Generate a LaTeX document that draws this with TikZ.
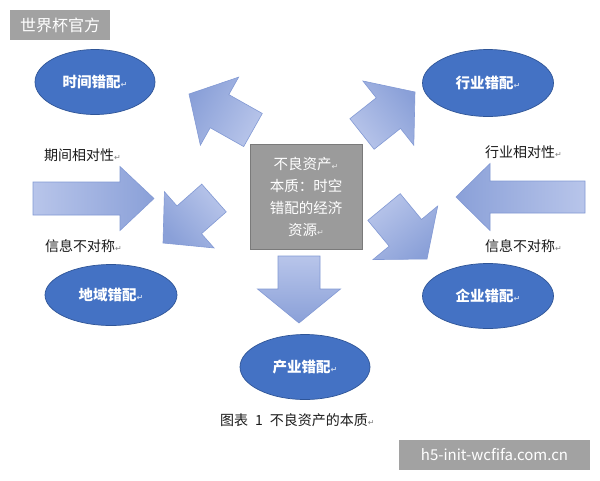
\documentclass[tikz,border=0pt]{standalone}
\usepackage{fontspec}
\setmainfont{Noto Sans CJK SC}
\newfontfamily\cjk{Noto Sans CJK SC}
\newfontfamily\djv{DejaVu Sans}
\usetikzlibrary{shapes.geometric,calc}
\definecolor{ellfill}{HTML}{4472C4}
\definecolor{elldraw}{HTML}{2F5597}
\definecolor{arrlight}{HTML}{B8C5EA}
\definecolor{arrdark}{HTML}{8AA0D8}
\definecolor{arrdraw}{HTML}{8299D4}
\definecolor{boxfill}{HTML}{9B9B9B}
\definecolor{boxdraw}{HTML}{7A7A7A}
\definecolor{wmfill}{HTML}{A2A2A2}
\definecolor{lblack}{HTML}{1A1A1A}
\newcommand\pmk[1]{{\djv\fontsize{8}{8}\selectfont\textcolor{#1}{↵}}}
% name, tail, tip, shaft half width, head half width, head length, shading angle
\newcommand\blockarr[7]{%
  \coordinate (#1t) at #2;
  \coordinate (#1h) at #3;
  \coordinate (#1b) at ($(#1h)!#6!(#1t)$);
  \draw[arrowsty, shading angle=#7]
    ($(#1t)!#4!90:(#1h)$) -- ($(#1b)!#4!90:(#1h)$) -- ($(#1b)!#5!90:(#1h)$)
    -- (#1h) -- ($(#1b)!#5!-90:(#1h)$) -- ($(#1b)!#4!-90:(#1h)$)
    -- ($(#1t)!#4!-90:(#1h)$) -- cycle;}
\tikzset{
  ell/.style={ellipse, fill=ellfill, draw=elldraw, line width=0.7pt, inner sep=0pt,
    text=white, font=\fontsize{14.5}{14.5}\selectfont\bfseries},
  arrowsty/.style={draw=arrdraw, line width=0.6pt, top color=arrlight, bottom color=arrdark},
  lbl/.style={anchor=west, inner sep=0pt, text=lblack, font=\fontsize{14}{14}\selectfont},
  wm/.style={fill=wmfill, text=white, inner sep=0pt},
}
\begin{document}
\begin{tikzpicture}[x=1pt,y=-1pt]
\useasboundingbox[fill=white] (0,0) rectangle (600,480);
% watermarks
\node[wm, minimum width=100pt, minimum height=30pt, font=\fontsize{16}{16}\selectfont] (wm1) at (60,25) {世界杯官方};
\node[wm, minimum width=191pt, minimum height=30pt, font=\fontsize{15}{15}\selectfont] (wm2) at (494.5,455) {h5-init-wcfifa.com.cn};
% ellipses
\node[ell, minimum width=120pt, minimum height=65pt] (time) at (95,82) {时间错配\pmk{white!70!ellfill}};
\node[ell, minimum width=131pt, minimum height=67pt] (hang) at (488,83) {行业错配\pmk{white!70!ellfill}};
\node[ell, minimum width=132pt, minimum height=61pt] (diyu) at (111,295) {地域错配\pmk{white!70!ellfill}};
\node[ell, minimum width=131pt, minimum height=65pt] (qiye) at (488,296) {企业错配\pmk{white!70!ellfill}};
\node[ell, minimum width=130pt, minimum height=65pt] (chan) at (305,367) {产业错配\pmk{white!70!ellfill}};
% centre box
\node[rectangle, fill=boxfill, draw=boxdraw, line width=0.8pt, minimum width=112pt, minimum height=105pt,
  inner sep=0pt, text=white, align=center, font=\fontsize{14.5}{22}\selectfont] (core) at (306,196.5)
  {不良资产\pmk{white!75!boxfill}\\本质：时空\\错配的经济\\资源\pmk{white!75!boxfill}};
% block arrows
\blockarr{L}{(33,198.5)}{(154,198.5)}{16.5pt}{32pt}{34pt}{90}
\blockarr{R}{(585,197)}{(456,197)}{16pt}{33.5pt}{34pt}{270}
\blockarr{D}{(299,256)}{(299,323)}{21pt}{41.5pt}{34pt}{0}
\blockarr{UL}{(253,130)}{(189,94)}{19pt}{39pt}{35pt}{241}
\blockarr{UR}{(362,134)}{(415,92)}{19.5pt}{41pt}{34pt}{128}
\blockarr{LL}{(214,198)}{(163,243)}{18.5pt}{37.5pt}{35pt}{311}
\blockarr{LR}{(384,207)}{(427,259)}{21pt}{42pt}{34pt}{40}
% labels
\node[lbl] (l1) at (44,155) {期间相对性\pmk{gray}};
\node[lbl] (l2) at (485,152) {行业相对性\pmk{gray}};
\node[lbl] (l3) at (45,246) {信息不对称\pmk{gray}};
\node[lbl] (l4) at (485,246) {信息不对称\pmk{gray}};
\node[lbl] (cap) at (220,420) {图表\hspace{7pt}1\hspace{7pt}不良资产的本质\pmk{gray}};
\end{tikzpicture}
\end{document}
